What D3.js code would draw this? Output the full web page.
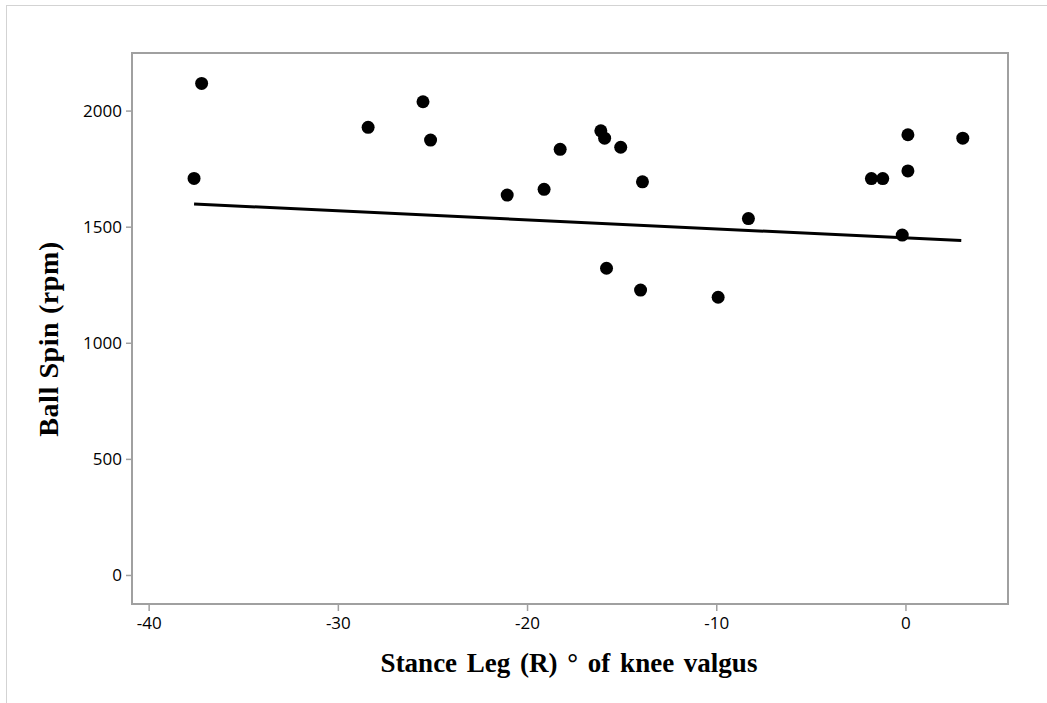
<!DOCTYPE html>
<html>
<head>
<meta charset="utf-8">
<script src="https://cdn.jsdelivr.net/npm/d3@7"></script>
<style>
  body { margin: 0; background: #fff; }
  svg { display: block; }
</style>
</head>
<body>
<div id="chart"></div>
<script>
// Knee valgus (deg) vs ball spin (rpm)
const valgus = [-37.6, -37.2, -28.4, -25.5, -25.1, -21.05, -19.1, -18.25, -16.1, -15.9, -15.05,
  -13.9, -15.8, -14.0, -9.9, -8.3, -1.8, -1.2, 0.13, 0.13, -0.17, 3.03];
const spin = [1708, 2117, 1928, 2038, 1873, 1636, 1661, 1833, 1913, 1881, 1842,
  1693, 1321, 1227, 1196, 1535, 1707, 1707, 1896, 1740, 1464, 1881];

// fitted line endpoints
const fitX = [-37.6, 2.95];
const fitY = [1598, 1440];

const xTicks = [-40, -30, -20, -10, 0];
const yTicks = [0, 500, 1000, 1500, 2000];

const W = 1047, H = 703;
const frame = { left: 132, right: 1008, top: 53, bottom: 604 };

const svg = d3.select('#chart').append('svg')
  .attr('width', W)
  .attr('height', H);

// outer light border (top and left visible)
svg.append('line')
  .attr('x1', 6).attr('x2', W).attr('y1', 5.5).attr('y2', 5.5)
  .attr('stroke', '#d3d3d3').attr('stroke-width', 1);
svg.append('line')
  .attr('x1', 6.5).attr('x2', 6.5).attr('y1', 5).attr('y2', H)
  .attr('stroke', '#d3d3d3').attr('stroke-width', 1);

const x = d3.scaleLinear().domain([-40.88, 5.42]).range([frame.left, frame.right]);
const y = d3.scaleLinear().domain([-125, 2248]).range([frame.bottom, frame.top]);

const fmt = d => String(d); // plain hyphen minus, no thousands comma

// axes
const xAxis = svg.append('g')
  .attr('transform', `translate(0,${frame.bottom})`)
  .call(d3.axisBottom(x).tickValues(xTicks).tickFormat(fmt).tickSize(7).tickPadding(6).tickSizeOuter(0));
const yAxis = svg.append('g')
  .attr('transform', `translate(${frame.left},0)`)
  .call(d3.axisLeft(y).tickValues(yTicks).tickFormat(fmt).tickSize(6).tickPadding(4).tickSizeOuter(0));

[xAxis, yAxis].forEach(a => {
  a.select('.domain').remove();
  a.selectAll('line').attr('stroke', '#a0a0a0').attr('stroke-width', 1.5);
  a.selectAll('text')
    .attr('fill', '#000')
    .style('font-family', '"Open Sans", sans-serif')
    .style('font-size', '17px');
});
yAxis.selectAll('text').attr('dy', '0.35em');

// frame
svg.append('rect')
  .attr('x', frame.left).attr('y', frame.top)
  .attr('width', frame.right - frame.left)
  .attr('height', frame.bottom - frame.top)
  .attr('fill', 'none')
  .attr('stroke', '#a0a0a0')
  .attr('stroke-width', 2);

// fit line
svg.append('line')
  .attr('x1', x(fitX[0])).attr('y1', y(fitY[0]))
  .attr('x2', x(fitX[1])).attr('y2', y(fitY[1]))
  .attr('stroke', '#000')
  .attr('stroke-width', 3);

// points
svg.append('g').selectAll('circle')
  .data(valgus.map((v, i) => [v, spin[i]]))
  .join('circle')
  .attr('cx', d => x(d[0]))
  .attr('cy', d => y(d[1]))
  .attr('r', 6.5)
  .attr('fill', '#000');

// axis titles
svg.append('text')
  .attr('x', 569)
  .attr('y', 672)
  .attr('text-anchor', 'middle')
  .style('font-family', '"Liberation Serif", "Times New Roman", serif')
  .style('font-weight', 'bold')
  .style('font-size', '27px')
  .style('word-spacing', '3px')
  .text('Stance Leg (R) ° of knee valgus');

svg.append('text')
  .attr('transform', 'translate(58,339) rotate(-90)')
  .attr('text-anchor', 'middle')
  .style('font-family', '"Liberation Serif", "Times New Roman", serif')
  .style('font-weight', 'bold')
  .style('font-size', '28px')
  .style('letter-spacing', '0.6px')
  .text('Ball Spin (rpm)');
</script>
</body>
</html>
